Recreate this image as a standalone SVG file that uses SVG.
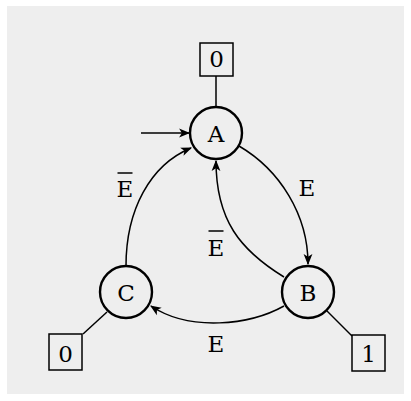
<svg xmlns="http://www.w3.org/2000/svg" width="411" height="401" viewBox="0 0 411 401">
<defs>
<marker id="arr" viewBox="0 0 10 10" refX="9" refY="5" markerWidth="11" markerHeight="11" markerUnits="userSpaceOnUse" orient="auto">
<path d="M0,1 L10,5 L0,9 L2.5,5 Z" fill="#000"/>
</marker>
<style>
.st{fill:none;stroke:#000;stroke-width:2.4}
.bx{fill:none;stroke:#000;stroke-width:1.5}
.ln{fill:none;stroke:#000;stroke-width:1.5}
.ed{fill:none;stroke:#000;stroke-width:1.5;marker-end:url(#arr)}
.t{font-family:"DejaVu Serif","Liberation Serif",serif;font-size:23px;text-anchor:middle;fill:#000}
</style>
</defs>
<rect x="7" y="6" width="397" height="388" fill="#eeeeee"/>
<g id="connectors">
<path class="ln" d="M216,76 L216,107"/>
<path class="ln" d="M83,334 L107,312"/>
<path class="ln" d="M327,311 L352,336"/>
<path class="ed" d="M141,133 L189,133"/>
<path class="ed" d="M239,146 C280,170 308,215 308,264"/>
<path class="ed" d="M284,277 C240,250 216,220 216,161"/>
<path class="ed" d="M284,306 C250,325 190,332 151,306"/>
<path class="ed" d="M126,266 C126,210 150,165 191,148"/>
</g>
<g id="labels">
<text class="t" x="307" y="196">E</text>
<text class="t" x="216" y="256">E</text>
<path class="ln" d="M208.5,231 L223.5,231"/>
<text class="t" x="216" y="352">E</text>
<text class="t" x="125" y="197">E</text>
<path class="ln" d="M117.5,173 L132.5,173"/>
</g>
<g id="A"><circle class="st" cx="216" cy="133" r="26"/><text class="t" x="216" y="142">A</text></g>
<g id="B"><circle class="st" cx="308" cy="292" r="26"/><text class="t" x="308" y="301">B</text></g>
<g id="C"><circle class="st" cx="126" cy="292" r="26"/><text class="t" x="126" y="301">C</text></g>
<g id="outA"><rect class="bx" x="200" y="43" width="33" height="33"/><text class="t" x="216.5" y="67">0</text></g>
<g id="outC"><rect class="bx" x="49" y="334" width="33" height="36"/><text class="t" x="65.5" y="362">0</text></g>
<g id="outB"><rect class="bx" x="352" y="335" width="33" height="36"/><text class="t" x="368.5" y="362">1</text></g>
</svg>
